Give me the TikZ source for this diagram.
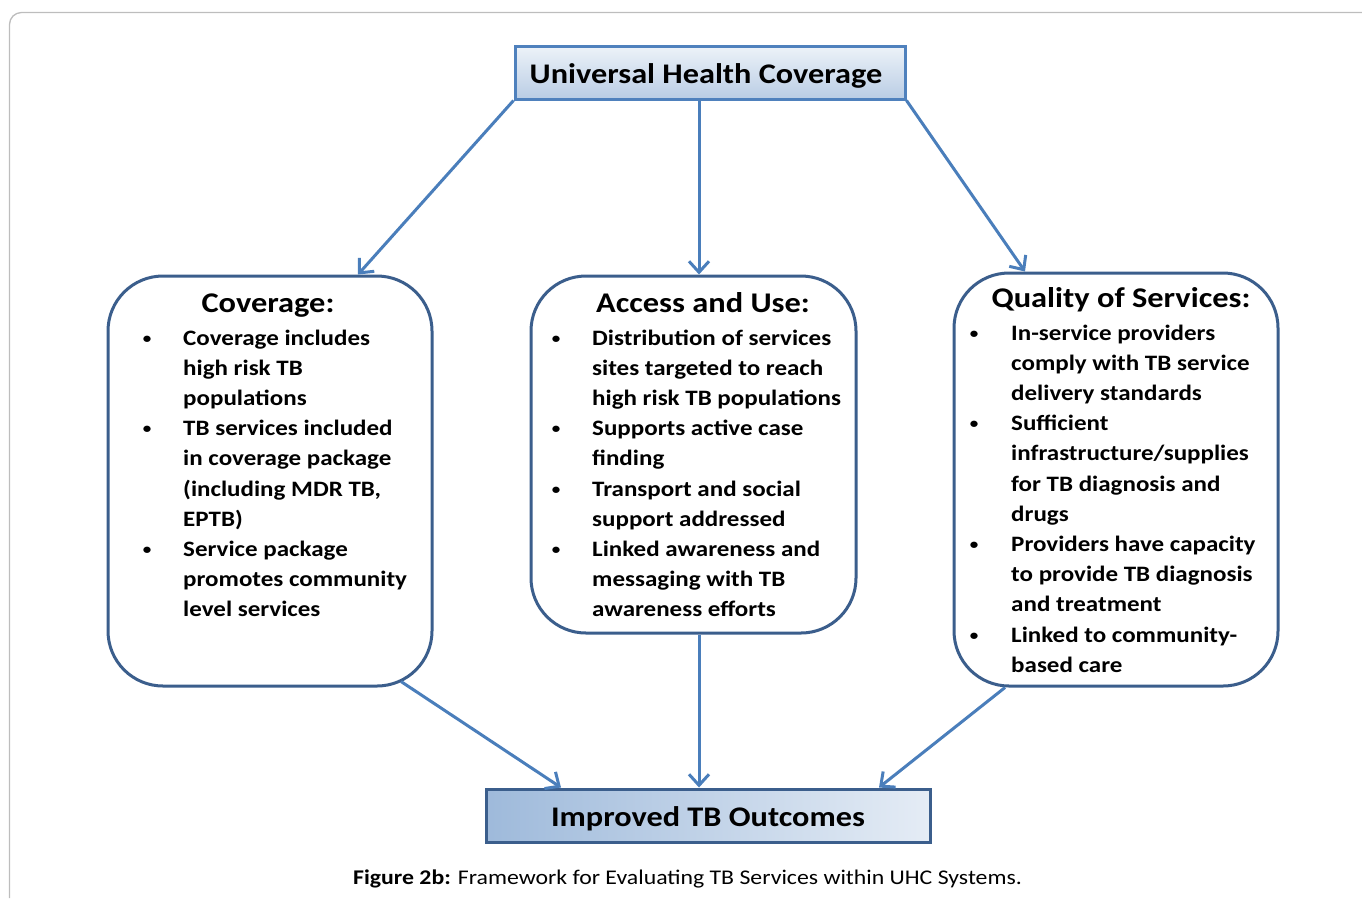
\documentclass[tikz,border=0pt]{standalone}
\usepackage{fontspec}
\setmainfont{Carlito}[FakeStretch=1.137]
\usetikzlibrary{arrows.meta}
\definecolor{boxborder}{HTML}{3B5E8C}
\definecolor{topborder}{HTML}{4F81BD}
\definecolor{arrowc}{HTML}{4A7EBB}
\definecolor{frame}{HTML}{BDBDBD}
\tikzset{
  x=1pt,y=-1pt,
  roundbox/.style={draw=boxborder,line width=3pt,rounded corners=55pt,fill=white,inner sep=0pt},
  headbox/.style={draw=topborder,line width=3pt,inner sep=0pt,font=\fontsize{28.4}{32}\selectfont\bfseries},
  conn/.style={draw=arrowc,line width=3pt,-{Straight Barb[length=11pt,width=20pt,line width=3pt]}},
  txt/.style={anchor=base west,inner sep=0pt,font=\fontsize{22}{26}\selectfont\bfseries},
  bul/.style={anchor=base,inner sep=0pt,font=\fontsize{15}{18}\selectfont\bfseries},
  ttl/.style={anchor=base,inner sep=0pt,font=\fontsize{28.5}{32}\selectfont\bfseries},
}
\begin{document}
\begin{tikzpicture}
\useasboundingbox (0,0) rectangle (1362,898);
\draw[frame,line width=1.3pt,rounded corners=12pt] (9.5,898) -- (9.5,12.5) -- (1362,12.5);
% boxes
\node[headbox,minimum width=390pt,minimum height=53pt,top color=white!90!topborder,bottom color=white!60!topborder] (uhc) at (710,72.5) {\raisebox{-3pt}[\height][\depth]{Universal Health Coverage\hspace{8pt}}};
\node[headbox,draw=boxborder,minimum width=444pt,minimum height=53pt,left color=white!45!topborder,right color=white!85!topborder] (imp) at (708,815.5) {\raisebox{-3pt}[\height][\depth]{Improved TB Outcomes}};
\node[roundbox,minimum width=324pt,minimum height=410pt] (cov) at (270,481) {};
\node[roundbox,minimum width=325pt,minimum height=357pt] (acc) at (693.5,454.5) {};
\node[roundbox,minimum width=324pt,minimum height=413pt] (qual) at (1116,479.5) {};
% titles
\node[ttl] (covt) at (268,312) {Coverage:};
\node[ttl] (acct) at (703,312) {Access and Use:};
\node[ttl] (qualt) at (1121,307) {Quality of Services:};
% coverage text
\foreach \t [count=\i] in {Coverage includes,high risk TB,populations,TB services included,in coverage package,{(including MDR TB,},EPTB),Service package,promotes community,level services}
  \node[txt] (covl\i) at (183,{345+30.2*(\i-1)}) {\t};
\foreach \k/\i in {1/1,2/4,3/8}
  \node[bul] (covb\k) at (147,{343+30.2*(\i-1)}) {•};
% access text
\foreach \t [count=\i] in {Distribution of services,sites targeted to reach,high risk TB populations,Supports active case,finding,Transport and social,support addressed,Linked awareness and,messaging with TB,awareness efforts}
  \node[txt] (accl\i) at (592,{345+30.2*(\i-1)}) {\t};
\foreach \k/\i in {1/1,2/4,3/6,4/8}
  \node[bul] (accb\k) at (556,{343+30.2*(\i-1)}) {•};
% quality text
\foreach \t [count=\i] in {In-service providers,comply with TB service,delivery standards,Sufficient,infrastructure/supplies,for TB diagnosis and,drugs,Providers have capacity,to provide TB diagnosis,and treatment,Linked to community-,based care}
  \node[txt] (quall\i) at (1011,{340+30.2*(\i-1)}) {\t};
\foreach \k/\i in {1/1,2/4,3/8,4/11}
  \node[bul] (qualb\k) at (974,{338+30.2*(\i-1)}) {•};
% connectors
\draw[conn] (uhc.south west) -- ([xshift=88pt]cov.north);
\draw[conn] ([xshift=-11pt]uhc.south) -- ([xshift=5.5pt]acc.north);
\draw[conn] (uhc.south east) -- ([xshift=-91pt]qual.north);
\draw[conn] ([xshift=131pt,yshift=6pt]cov.south) -- ([xshift=-147pt]imp.north);
\draw[conn] ([xshift=5.5pt]acc.south) -- ([xshift=-9pt]imp.north);
\draw[conn] ([xshift=-111pt]qual.south) -- ([xshift=171pt]imp.north);
% caption
\node[anchor=base west,inner sep=0pt,font=\fontsize{20.9}{24}\selectfont] (cap) at (353,884) {\textbf{Figure 2b:} Framework for Evaluating TB Services within UHC Systems.};
\end{tikzpicture}
\end{document}
